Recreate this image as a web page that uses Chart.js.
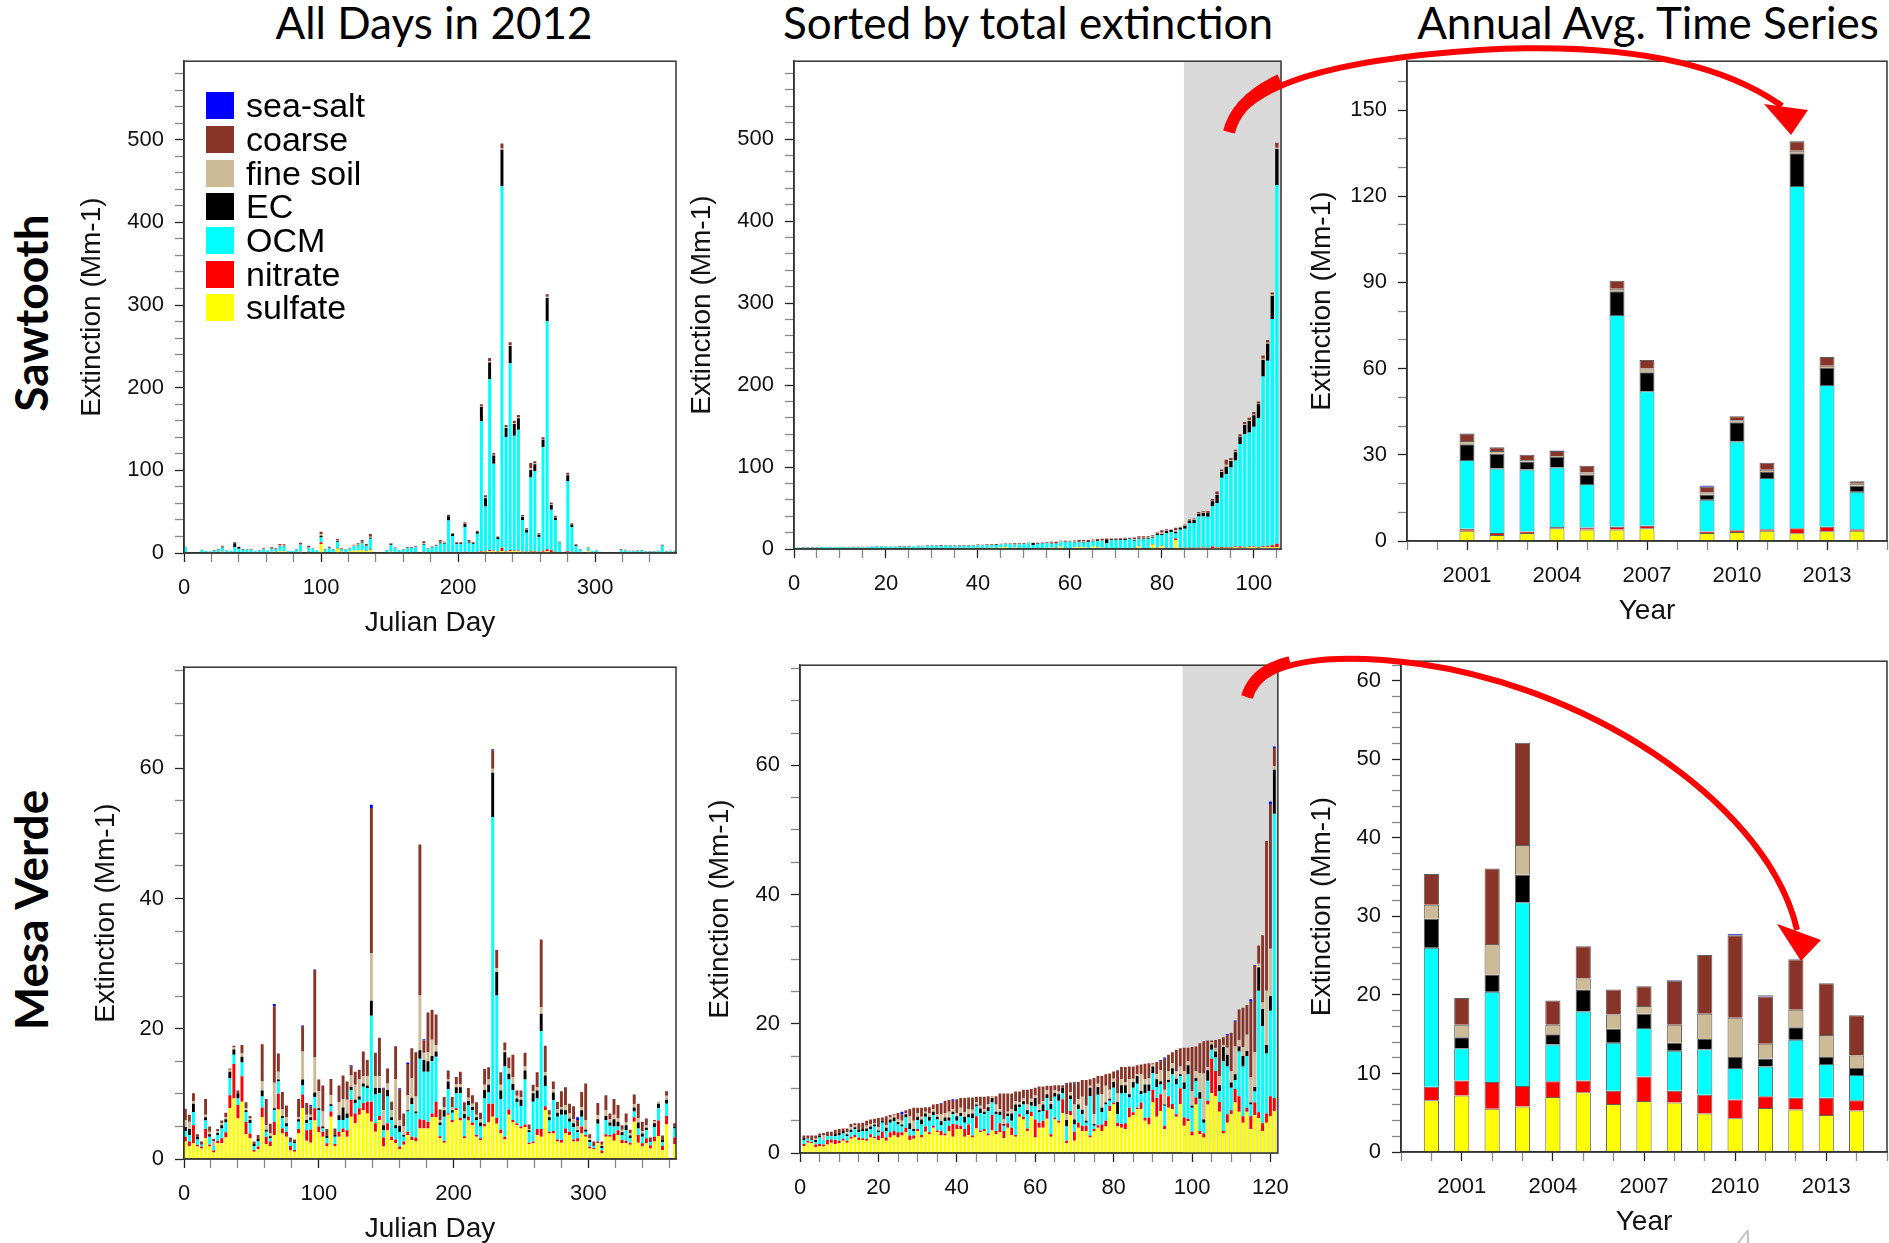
<!DOCTYPE html>
<html>
<head>
<meta charset="utf-8">
<title>Sawtooth / Mesa Verde extinction</title>
<script src="https://cdn.jsdelivr.net/npm/chart.js@4.4.1/dist/chart.umd.min.js"></script>
<style>
  html, body { margin: 0; padding: 0; background: #fff; }
  body { width: 1889px; height: 1243px; position: relative; overflow: hidden;
         font-family: "Liberation Sans", Arial, sans-serif; }
  canvas { position: absolute; }
  .coltitle { position: absolute; top: 0; font-family: Lato, "Open Sans", sans-serif;
              font-size: 44px; line-height: 44px; white-space: nowrap; transform: translateX(-50%); }
  .rowtitle { position: absolute; font-family: Lato, "Open Sans", sans-serif; font-weight: bold;
              font-size: 46px; white-space: nowrap; transform: translate(-50%, -50%) rotate(-90deg); }
  #legend { position: absolute; left: 206px; top: 89px; font-size: 34px; z-index: 2; }
  #legend .item { height: 33.7px; display: flex; align-items: center; }
  #legend .sw { width: 28px; height: 27px; margin-right: 12px; }
  #arrows { position: absolute; left: 0; top: 0; z-index: 3; pointer-events: none; }
  #pageno { position: absolute; left: 1728px; top: 1216px; font-family: Lato, sans-serif;
            font-size: 50px; color: #c4c4c4; font-weight: 300; }
</style>
</head>
<body>

<div class="coltitle" style="left:434px">All Days in 2012</div>
<div class="coltitle" style="left:1028px">Sorted by total extinction</div>
<div class="coltitle" style="left:1648px">Annual Avg. Time Series</div>
<div class="rowtitle" style="left:30px; top:313px">Sawtooth</div>
<div class="rowtitle" style="left:30px; top:910px">Mesa Verde</div>

<canvas id="sawDaily"  width="616" height="606" style="left:74px;  top:37px"></canvas>
<canvas id="sawSorted" width="611" height="562" style="left:684px; top:37px"></canvas>
<canvas id="sawAnnual" width="596" height="594" style="left:1304px; top:37px"></canvas>
<canvas id="mvDaily"   width="602" height="606" style="left:88px;  top:643px"></canvas>
<canvas id="mvSorted"  width="600" height="562" style="left:702px; top:641px"></canvas>
<canvas id="mvAnnual"  width="596" height="605" style="left:1304px; top:637px"></canvas>

<div id="legend"></div>

<svg id="arrows" width="1889" height="1243">
  <g fill="none" stroke="#ff0000" stroke-linecap="butt">
    <path d="M1229,132 C1245,85 1330,60 1480,50 C1620,42 1720,62 1782,106" stroke-width="6"/>
    <path d="M1229,132 C1234,112 1250,94 1280,80" stroke-width="12"/>
    <path d="M1247,697 C1262,660 1330,652 1420,664 C1600,690 1770,810 1797,930" stroke-width="6"/>
    <path d="M1247,697 C1252,680 1266,668 1290,662" stroke-width="12"/>
  </g>
  <polygon points="1764,104 1808,110 1791,135" fill="#ff0000"/>
  <polygon points="1777,924 1821,940 1801,961" fill="#ff0000"/>
</svg>

<div id="pageno">4</div>

<script>
// ---- components (stack order bottom -> top)
const componentNames = ['sulfate', 'nitrate', 'OCM', 'EC', 'fine soil', 'coarse', 'sea-salt'];
const componentColors = ['#ffff00', '#ff0000', '#00ffff', '#000000', '#cdbb98', '#893428', '#0000ff'];

// ---- Sawtooth, 2012 sample days (Mm-1)
const sawDays = [1,13,16,19,22,25,28,31,34,37,
  40,43,46,49,52,55,58,61,64,67,
  70,73,76,79,82,85,91,94,97,100,
  103,106,109,112,115,118,121,124,127,130,
  133,136,148,151,154,157,160,163,166,169,
  175,178,181,184,187,190,193,196,199,202,
  205,208,211,214,217,220,223,226,229,232,
  235,238,241,244,247,250,253,256,259,262,
  265,268,271,274,280,283,286,289,295,298,
  301,319,322,325,328,331,334,337,340,343,
  346,349,352,355,358];
const sawSulfate = [0.6,0.5,0.5,0.4,0.8,0.7,1.5,0.5,0.5,0.9,
  0.6,0.6,0.5,0.5,0.4,0.6,0.8,0.5,1.5,1.2,
  2.0,1.8,0.5,0.5,0.6,1.5,1.2,0.8,0.6,10.9,
  1.0,1.0,0.9,5.2,1.5,1.1,1.8,2.8,3.0,3.2,
  2.2,3.5,0.8,1.5,1.0,0.6,0.8,0.9,0.8,1.0,
  1.2,0.8,0.9,1.0,0.8,0.8,1.0,0.8,0.7,0.8,
  1.0,0.8,0.7,1.0,1.5,1.5,2.0,2.0,1.5,2.5,
  1.5,2.0,2.0,2.0,1.5,1.2,1.5,1.5,1.0,1.5,
  2.0,1.2,1.0,0.8,1.2,1.0,0.8,0.6,2.5,0.6,
  0.7,0.8,0.7,0.6,0.6,0.7,0.7,0.5,0.5,0.5,
  0.6,0.8,0.5,0.6,0.6];
const sawNitrate = [0.1,0.1,0.1,0.1,0.1,0.2,0.3,0.1,0.1,0.2,
  0.2,0.1,0.1,0.1,0.1,0.1,0.2,0.1,0.2,0.2,
  0.3,0.3,0.1,0.1,0.1,0.3,0.3,0.2,0.1,2.0,
  0.2,0.2,0.1,0.6,0.2,0.2,0.2,0.3,0.4,0.5,
  0.4,0.6,0.1,0.3,0.2,0.1,0.1,0.2,0.2,0.2,
  0.3,0.2,0.2,0.3,0.3,0.3,0.4,0.3,0.3,0.3,
  0.5,0.3,0.3,0.4,1.0,0.7,1.5,1.0,0.5,4.0,
  0.7,1.5,1.0,1.0,0.5,0.4,0.8,0.8,0.5,1.5,
  2.5,2.0,0.6,0.3,0.8,0.4,0.2,0.1,0.3,0.1,
  0.1,0.2,0.2,0.2,0.2,0.2,0.2,0.1,0.1,0.1,
  0.1,0.2,0.1,0.1,0.1];
const sawOCM = [6.2,2.8,1.8,1.2,1.8,2.5,4.6,2.4,1.7,6.0,
  4.2,3.3,3.5,3.1,1.8,1.9,3.6,2.3,3.5,2.8,
  5.5,5.8,1.7,1.7,3.2,7.6,4.5,3.5,2.2,6.0,
  2.8,5.0,2.6,7.5,3.2,2.7,3.4,5.0,5.8,8.2,
  6.0,13.0,2.1,8.0,4.6,2.3,3.1,4.8,4.9,5.9,
  8.6,4.0,5.6,6.9,10.5,10.0,38.0,19.5,9.8,9.6,
  30.0,11.4,9.8,22.0,157,54,207,105,15,437.5,
  138,226,139,146,38,23,89,97,18,125,
  276,49,38,11.5,85,30,7.5,3.2,3.0,1.6,
  2.2,2.4,2.1,1.3,1.4,1.9,1.9,1.0,1.0,1.0,
  1.5,7.8,1.0,1.5,1.5];
const sawEC = [0.4,0.2,0.1,0.1,0.2,0.2,0.6,0.2,0.2,4.8,
  2.2,0.4,0.3,0.3,0.2,0.2,0.3,0.2,0.4,0.3,
  0.6,0.5,0.2,0.2,0.3,0.6,0.5,0.3,0.2,2.0,
  0.3,0.5,0.3,0.8,0.3,0.2,0.3,0.4,0.5,0.8,
  0.5,1.2,0.2,0.8,0.4,0.2,0.3,0.4,0.4,0.5,
  0.8,0.4,0.5,0.6,1.2,1.0,5.0,2.5,1.0,1.1,
  4.0,1.3,1.0,2.5,17,10,20,10,2,44,
  11,21,14,14,4,3.5,9,8,2.5,9,
  28,6,3.5,0.8,7,3,1.0,0.4,0.3,0.2,
  0.2,0.2,0.2,0.1,0.1,0.2,0.2,0.1,0.1,0.1,
  0.2,0.5,0.1,0.2,0.2];
const sawSoil = [0.1,0.1,0.1,0.1,0.2,0.2,0.7,0.1,0.1,0.3,
  0.2,0.1,0.1,0.1,0.1,0.1,0.3,0.1,0.4,0.3,
  0.8,0.6,0.1,0.1,0.2,0.9,0.8,0.3,0.2,2.0,
  0.2,0.3,0.2,1.0,0.3,0.2,0.3,0.6,0.7,1.0,
  0.7,1.5,0.1,0.5,0.2,0.1,0.2,0.2,0.2,0.3,
  1.0,0.2,0.3,0.4,0.9,0.5,0.5,0.3,0.4,0.4,
  0.5,0.6,0.4,0.3,0.8,1.0,1.5,1.0,0.3,1.5,
  1.0,1.0,1.0,1.0,0.5,0.5,2.5,1.0,0.5,0.5,
  1.5,0.8,0.4,0.2,0.8,0.5,0.4,0.2,0.3,0.1,
  0.1,0.4,0.3,0.2,0.2,0.2,0.2,0.1,0.1,0.1,
  0.1,0.3,0.1,0.1,0.1];
const sawCoarse = [0.3,0.3,0.2,0.1,0.5,0.4,1.2,0.3,0.2,0.7,
  0.3,0.3,0.3,0.3,0.2,0.2,0.8,0.4,0.9,0.8,
  1.7,1.5,0.2,0.2,0.4,1.6,1.6,0.5,0.3,2.9,
  0.3,0.7,0.3,1.8,0.5,0.4,0.5,1.0,1.3,2.0,
  1.1,3.2,0.3,1.0,0.5,0.3,0.3,0.4,0.4,0.6,
  2.2,0.4,0.6,0.9,2.0,1.1,1.5,0.8,0.7,0.7,
  1.1,1.3,0.8,0.8,2.7,2.8,4.0,2.0,0.7,6.0,
  2.8,3.5,3.0,3.0,1.5,1.4,6.2,2.7,1.5,2.5,
  3.0,2.0,1.5,0.4,2.2,1.1,1.0,0.3,0.5,0.2,
  0.3,0.8,0.5,0.4,0.3,0.4,0.4,0.2,0.2,0.2,
  0.3,0.5,0.2,0.3,0.3];
const sawSeaSalt = [0,0,0,0,0,0.6,0,0,0,0,
  0,0,0,0,0,0.5,0,0,0,0,
  0,0,0,0,0,0,0,0,0,0,
  0,0,0,0,0,0,0,0,0,0,
  0,0,0,0,0,0,0,0,0,0,
  0,0,0,0,0,0,0,0,0,0,
  0,0,0,0,0,0,0,0,0,0,
  0,0,0,0,0,0,0,0,0,0,
  0,0,0,0,0,0,0,0,0,0,
  0,0,0,0,0,0,0,0,0,0,
  0,0,0,0,0];

// ---- Mesa Verde, 2012 sample days (Mm-1)
const mvDays = [1,4,7,10,13,16,19,22,25,28,
  31,34,37,40,43,46,49,52,55,58,
  61,64,67,70,73,76,79,82,85,88,
  91,94,97,100,103,106,109,112,115,118,
  121,124,127,130,133,136,139,142,145,148,
  151,154,157,160,163,166,169,172,175,178,
  181,184,187,190,193,196,199,202,205,208,
  211,214,217,220,223,226,229,232,235,238,
  241,244,247,250,253,256,259,262,265,268,
  271,274,277,280,283,286,289,292,295,298,
  301,304,307,310,313,316,319,322,325,328,
  331,334,337,340,343,346,349,352,355,358,
  364];
const mvSulfate = [2.7,2.0,2.4,1.9,1.6,3.2,1.9,1.0,2.4,2.4,
  3.3,7.8,9.3,6.2,8.8,3.8,3.2,1.1,1.5,6.4,
  2.3,2.0,3.7,7.6,3.9,3.4,1.3,1.1,3.9,7.8,
  2.8,2.5,5.9,4.1,3.4,2.0,6.5,2.0,3.4,4.1,
  3.4,6.5,5.5,6.8,7.5,7.0,5.7,4.2,6.0,1.9,
  4.4,2.9,2.4,1.5,2.2,3.7,2.9,2.7,4.7,4.7,
  4.7,6.4,6.4,3.2,2.5,6.8,5.6,7.5,5.9,3.2,
  5.9,5.2,3.4,2.9,5.0,5.6,6.5,5.4,3.9,3.0,
  6.8,5.6,5.2,4.7,4.9,2.3,2.4,3.7,3.4,7.5,
  3.9,3.9,2.7,2.5,3.9,3.7,2.7,2.7,3.9,3.4,
  1.6,1.5,2.4,0.9,3.4,3.4,2.8,3.7,2.4,2.4,
  2.2,5.7,2.5,1.9,2.4,1.6,2.7,3.5,1.4,5.3,
  2.3];
const mvNitrate = [0.7,0.7,2.8,0.3,0.3,1.4,0.3,0.3,0.4,0.8,
  0.8,2.0,5.3,2.1,3.9,1.9,0.7,0.3,0.4,1.5,
  1.1,0.7,2.0,2.4,0.8,0.8,0.7,0.3,0.7,2.1,
  1.6,2.0,1.9,0.9,0.8,0.4,0.8,0.3,0.8,0.6,
  1.0,2.6,1.5,1.0,1.1,1.8,3.1,1.3,0.6,1.4,
  1.1,0.5,0.6,0.4,0.5,0.5,0.5,0.6,1.4,1.3,
  1.0,0.6,2.4,0.3,0.3,0.2,0.4,0.3,0.4,0.3,
  0.6,0.4,0.3,0.3,0.4,2.9,2.0,0.9,0.6,0.4,
  0.8,0.4,0.3,0.3,0.4,0.2,0.3,0.9,1.2,0.6,
  0.3,0.4,0.3,0.4,0.8,0.5,0.3,0.5,1.1,0.3,
  0.3,0.2,0.3,0.4,0.4,0.3,1.1,0.7,0.5,0.4,
  0.3,0.7,1.2,0.5,0.8,0.5,0.7,2.4,0.6,1.3,
  1.0];
const mvOCM = [0.9,1.0,2.0,0.8,0.3,1.3,1.2,0.7,0.9,1.5,
  1.5,2.6,1.4,1.0,2.1,1.5,1.6,0.6,0.8,1.7,
  0.8,0.5,1.8,1.9,1.6,0.8,0.6,1.0,1.1,1.4,
  1.1,1.5,1.7,2.5,0.5,0.8,0.8,1.1,1.8,1.3,
  1.9,1.5,1.6,1.3,2.5,2.1,13.2,4.4,3.5,1.1,
  4.1,2.6,1.7,2.2,0.7,3.1,5.0,3.7,9.3,7.4,
  7.7,8.0,6.9,1.7,3.7,3.7,1.1,2.3,3.8,2.7,
  1.8,1.9,2.3,1.8,3.9,1.7,44.0,18.8,4.7,10.8,
  4.6,4.6,3.2,3.1,6.9,1.6,6.1,4.7,15.0,3.1,
  1.7,4.7,3.5,3.9,2.1,1.5,1.9,0.9,1.5,0.5,
  0.7,0.3,2.7,0.4,2.2,1.4,1.1,0.6,0.8,1.6,
  0.7,0.9,1.0,1.0,1.2,0.5,1.5,1.9,0.6,1.9,
  1.4];
const mvEC = [0.6,0.9,1.3,0.4,0,0.5,0.4,0,0.3,0.5,
  0.5,1.0,0.8,0.8,0.9,0.3,0.5,0.3,0.4,0.9,
  0.3,0.3,0.3,0.3,0.3,0.5,0,0.3,0.4,0.9,
  0.5,0.4,0.7,0.3,0.3,0.4,0.3,0.3,0.7,1.9,
  0.7,0.5,0.5,0.5,0.5,0.4,2.3,1.0,0.8,0.8,
  1.0,0.4,0.5,1.0,0.3,0.2,1.0,0.3,1.3,1.8,
  1.6,0.8,0.8,0.4,1.0,1.2,0.4,0.9,0.9,0.7,
  0.6,0.5,0.4,0.6,1.3,1.2,6.8,3.6,1.3,2.2,
  0.9,0.9,0.6,1.0,1.4,0.3,1.3,1.2,2.7,1.6,
  0.5,1.2,0.6,0.8,0.7,0.5,0.6,0.3,1.0,0.3,
  0.3,0,0.7,0.3,0.6,0.5,1.1,0.7,0.4,0.8,
  0.4,0.6,0.9,0.5,0.4,0,0.6,0.7,0.4,0.6,
  0.3];
const mvSoil = [1.1,1.1,0.4,0,0,0.4,0.4,0.7,0.3,0.3,
  0.3,0.3,0.3,0,0.5,0.3,0.2,0,0,1.4,
  0.7,0.5,3.9,1.2,1.0,0.9,0,0,0.3,4.3,
  0.8,0.4,5.4,2.6,2.3,0,1.4,0,2.0,1.3,
  2.1,1.7,2.3,2.6,1.1,1.4,7.3,1.8,1.8,2.3,
  1.0,1.1,7.1,0.9,1.3,2.3,3.0,2.3,8.4,1.1,
  1.4,2.5,1.0,0.4,0.5,0.3,0.4,0.5,0.5,0.4,
  0.5,0.5,0.4,0.5,0.8,0.8,0.6,0.6,0.9,0.3,
  0.8,1.1,0.4,0.4,0.6,0.2,0.3,0.5,1.0,0.5,
  0.4,0.5,0.5,0.4,0.8,0.8,0.6,0.6,0.5,1.5,
  0.3,0,0.6,0.2,0.9,0.5,0.7,0.5,0.4,0.4,
  0.4,0.5,0.7,0.4,0.4,0,0.3,0.2,0,0.6,
  0];
const mvCoarse = [1.6,1.1,1.2,0.4,0.5,2.4,0.8,0.4,0.3,0.4,
  0.7,0.2,0.3,0.4,1.3,0.9,0.4,0.4,0.6,5.7,
  4.0,1.4,11.7,2.8,2.7,1.8,0.7,0.3,2.8,3.8,
  1.8,1.3,13.4,1.8,4.0,1.0,2.5,1.0,2.6,3.6,
  2.8,1.4,2.0,1.5,3.8,2.5,22.3,3.6,5.9,3.3,
  2.3,1.3,5.0,4.7,2.0,4.8,4.6,6.8,23.2,1.9,
  6.1,4.6,4.7,1.6,1.5,1.4,1.6,1.1,1.9,1.4,
  1.5,1.3,1.9,1.0,2.4,1.9,2.8,2.8,1.9,1.2,
  1.7,3.4,0.8,1.0,2.1,0.7,1.0,2.3,10.4,4.1,
  0.7,1.2,1.2,2.4,2.7,1.5,2.0,1.0,2.3,5.6,
  0.6,0.7,1.9,0.5,2.3,0.9,2.4,2.1,0.7,1.4,
  0.5,1.5,2.2,1.4,1.0,0.7,0.2,0.1,0.6,0.7,
  0.5];
const mvSeaSalt = [0.1,0,0,0,0,0,0,0,0,0,
  0,0,0,0,0,0,0,0,0,0,
  0,0,0.4,0,0,0,0,0,0,0.2,
  0,0.2,0.1,0,0,0,0,0,0,0,
  0,0.2,0,0,0,0,0.5,0,0,0.15,
  0,0,0,0.15,0,0.2,0,0,0,0.2,
  0,0,0,0,0,0,0,0,0,0,
  0,0,0,0,0,0,0.2,0,0,0,
  0,0,0,0,0,0,0,0,0,0,
  0,0,0,0,0,0,0,0.4,0,0,
  0,0,0,0,0,0,0,0,0,0,
  0,0,0,0,0,0,0,0,0,0,
  0];

// ---- annual averages (Mm-1)
const sawYears = [2001,2002,2003,2004,2005,2006,2007,2009,2010,2011,2012,2013,2014];
const sawAnnSulfate = [3.6,2.1,2.8,4.4,4.0,4.0,4.4,2.8,3.1,3.6,2.7,3.4,3.6];
const sawAnnNitrate = [0.7,0.7,0.5,0.5,0.7,1.0,0.9,0.5,0.6,0.5,1.7,1.6,0.5];
const sawAnnOCM     = [23.9,22.4,21.6,20.7,15.1,73.7,46.8,11.1,30.9,17.8,119.2,49.3,13.0];
const sawAnnEC      = [5.5,5.2,2.8,3.6,3.2,8.2,6.6,1.8,6.7,2.1,11.4,5.9,2.1];
const sawAnnSoil    = [1.1,0.9,0.5,0.4,0.8,0.9,1.3,0.7,0.7,0.8,0.8,0.8,0.7];
const sawAnnCoarse  = [2.5,1.3,1.8,1.7,2.4,2.8,3.0,2.0,1.4,2.4,3.3,3.0,0.9];
const sawAnnSeaSalt = [0.2,0,0,0.2,0,0,0,0.4,0,0,0.2,0,0];

const mvYears = [2000,2001,2002,2003,2004,2005,2006,2007,2008,2009,2010,2011,2012,2013,2014];
const mvAnnSulfate = [6.6,7.2,5.5,5.8,7.0,7.6,6.1,6.5,6.3,4.9,4.3,5.6,5.4,4.7,5.3];
const mvAnnNitrate = [1.7,1.9,3.4,2.6,2.0,1.5,1.7,3.1,1.5,2.4,2.4,1.5,1.5,2.2,1.3];
const mvAnnOCM     = [17.7,4.1,11.5,23.4,4.7,8.8,6.1,6.2,5.1,5.8,4.0,3.8,7.4,4.3,3.2];
const mvAnnEC      = [3.7,1.4,2.2,3.5,1.3,2.8,1.8,1.8,1.0,1.3,1.4,1.0,1.6,0.9,0.9];
const mvAnnSoil    = [1.8,1.6,3.9,3.8,1.2,1.4,1.8,1.0,2.3,3.2,5.0,1.9,2.2,2.8,1.6];
const mvAnnCoarse  = [3.9,3.4,9.6,13.0,3.1,4.1,3.2,2.5,5.6,7.5,10.5,6.0,6.4,6.6,5.1];
const mvAnnSeaSalt = [0,0,0,0,0,0,0,0,0.1,0,0.2,0.15,0.1,0,0];

// sorted panels: shaded from this rank on (haziest 20%)
const sawShadeFrom = 84.8;
const mvShadeFrom = 97.6;

const sawSeries = [sawSulfate, sawNitrate, sawOCM, sawEC, sawSoil, sawCoarse, sawSeaSalt];
const mvSeries = [mvSulfate, mvNitrate, mvOCM, mvEC, mvSoil, mvCoarse, mvSeaSalt];
const sawAnnSeries = [sawAnnSulfate, sawAnnNitrate, sawAnnOCM, sawAnnEC, sawAnnSoil, sawAnnCoarse, sawAnnSeaSalt];
const mvAnnSeries = [mvAnnSulfate, mvAnnNitrate, mvAnnOCM, mvAnnEC, mvAnnSoil, mvAnnCoarse, mvAnnSeaSalt];

// re-order the days by their total extinction
function sortByTotal(series) {
  const totals = series[0].map((_, i) => series.reduce((s, a) => s + a[i], 0));
  const order = totals.map((_, i) => i).sort((a, b) => totals[a] - totals[b]);
  return series.map(a => order.map(i => a[i]));
}
const ranks = n => Array.from({ length: n }, (_, i) => i + 1);

function stackedSets(xs, series, extra) {
  return series.map((vals, j) => Object.assign({
    label: componentNames[j],
    data: vals.map((v, i) => ({ x: xs[i], y: v })),
    backgroundColor: componentColors[j],
    borderWidth: 0
  }, extra || {}));
}

Chart.defaults.font.family = '"Liberation Sans", Arial, sans-serif';
Chart.defaults.color = '#111';

// grey band behind the haziest days
const shadePlugin = {
  id: 'shade',
  beforeDatasetsDraw(chart, args, opts) {
    if (opts.from == null) return;
    const { ctx, chartArea, scales } = chart;
    const x0 = scales.x.getPixelForValue(opts.from);
    ctx.save();
    ctx.fillStyle = '#d9d9d9';
    ctx.fillRect(x0, chartArea.top, chartArea.right - x0, chartArea.bottom - chartArea.top);
    ctx.restore();
  }
};
// closed box round the plot
const framePlugin = {
  id: 'frame',
  afterDatasetsDraw(chart) {
    const { ctx, chartArea: a } = chart;
    ctx.save();
    ctx.strokeStyle = '#333';
    ctx.lineWidth = 1.5;
    ctx.strokeRect(a.left, a.top, a.right - a.left, a.bottom - a.top);
    ctx.restore();
  }
};

function linAxis(min, max, step, labelled, pad) {
  return {
    type: 'linear', min: min, max: max, offset: false, stacked: true,
    ticks: {
      stepSize: step, includeBounds: false, autoSkip: false, maxRotation: 0, padding: pad,
      font: { size: 22 }, color: '#111',
      callback: v => (labelled(v) ? String(v) : '')
    },
    grid: {
      offset: false, drawOnChartArea: false, drawTicks: true, tickLength: 9, tickWidth: 1.3,
      tickColor: c => (c.tick && c.tick.label !== '' ? '#222' : '#888')
    },
    border: { display: true, color: '#333', width: 1.5 }
  };
}

function panel(id, cfg) {
  const x = linAxis(cfg.x[0], cfg.x[1], cfg.x[2], cfg.x[3], 13);
  x.afterFit = s => { s.height = cfg.xH; };
  if (cfg.xTitle) {
    x.title = { display: true, text: cfg.xTitle, font: { size: 28 }, color: '#111', padding: { top: 0, bottom: 3 } };
  }
  const y = linAxis(cfg.y[0], cfg.y[1], cfg.y[2], cfg.y[3], 11);
  y.afterFit = s => { s.width = cfg.yW; };
  y.title = { display: true, text: 'Extinction (Mm-1)', font: { size: 28 }, color: '#111', padding: { top: 1, bottom: 0 } };

  return new Chart(document.getElementById(id), {
    type: 'bar',
    data: { datasets: cfg.datasets },
    options: {
      responsive: false,
      animation: false,
      layout: { padding: { top: 0, right: cfg.padR, bottom: 0, left: 0 } },
      categoryPercentage: cfg.cat || 0.8,
      barPercentage: cfg.bar || 0.9,
      scales: { x: x, y: y },
      plugins: { legend: { display: false }, tooltip: { enabled: false }, shade: { from: cfg.shade } }
    },
    plugins: [shadePlugin, framePlugin]
  });
}

const by100 = v => v % 100 === 0;
const by20 = v => v % 20 === 0;
const yearLab = v => (v - 2001) % 3 === 0;
const annualStyle = { borderWidth: 1, borderColor: 'rgba(40,40,40,0.75)' };

const sawSorted = sortByTotal(sawSeries);
const mvSorted = sortByTotal(mvSeries);

const sawDailyChart = panel('sawDaily', {
  datasets: stackedSets(sawDays, sawSeries),
  x: [0, 359, 20, by100], y: [0, 595, 20, by100],
  xTitle: 'Julian Day', xH: 90, yW: 110, padR: 14
});
panel('sawSorted', {
  datasets: stackedSets(ranks(sawSorted[0].length), sawSorted),
  x: [0, 105.9, 5, by20], y: [0, 595, 20, by100],
  xH: 50, yW: 110, padR: 14, shade: sawShadeFrom
});
panel('sawAnnual', {
  datasets: stackedSets(sawYears, sawAnnSeries, annualStyle),
  x: [1999, 2015, 1, yearLab], y: [0, 167, 10, v => v % 30 === 0],
  xTitle: 'Year', xH: 90, yW: 103, padR: 0, cat: 1, bar: 0.5
});
panel('mvDaily', {
  datasets: stackedSets(mvDays, mvSeries),
  x: [0, 365, 20, by100], y: [0, 75.5, 5, by20],
  xTitle: 'Julian Day', xH: 90, yW: 96, padR: 14
});
panel('mvSorted', {
  datasets: stackedSets(ranks(mvSorted[0].length), mvSorted),
  x: [0, 121.9, 5, by20], y: [0, 75.5, 5, by20],
  xH: 50, yW: 98, padR: 14, shade: mvShadeFrom
});
panel('mvAnnual', {
  datasets: stackedSets(mvYears, mvAnnSeries, annualStyle),
  x: [1999, 2015, 1, yearLab], y: [0, 62.5, 2, v => v % 10 === 0],
  xTitle: 'Year', xH: 90, yW: 97, padR: 0, cat: 1, bar: 0.5
});

// legend inside the first panel, top component first
const legendBox = document.getElementById('legend');
Chart.defaults.plugins.legend.labels.generateLabels(sawDailyChart).reverse().forEach(item => {
  const row = document.createElement('div');
  row.className = 'item';
  const sw = document.createElement('span');
  sw.className = 'sw';
  sw.style.background = item.fillStyle;
  const tx = document.createElement('span');
  tx.textContent = item.text;
  row.append(sw, tx);
  legendBox.append(row);
});
</script>
</body>
</html>
